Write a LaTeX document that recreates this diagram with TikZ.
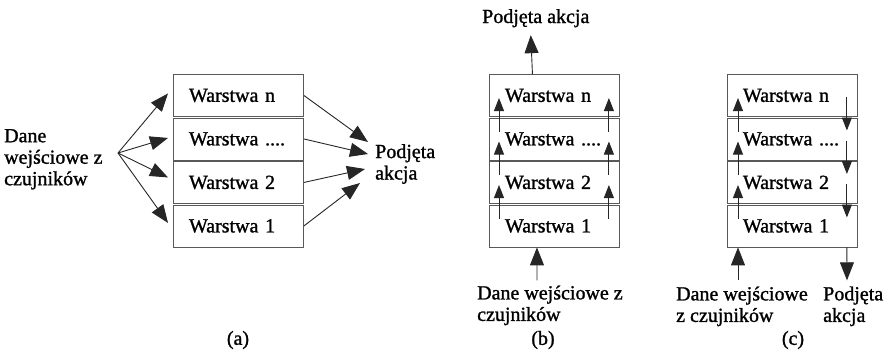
\documentclass[tikz,border=0pt]{standalone}
\usepackage{fontspec}
\setmainfont{Liberation Serif}[FakeBold=1.2]
\usetikzlibrary{arrows.meta,calc}
\begin{document}
\begin{tikzpicture}[x=1pt,y=-1pt,
  layer/.style={draw=black!65, line width=0.9pt, minimum width=130pt, minimum height=42pt,
    inner xsep=15.5pt, inner ysep=0pt, text width=99pt, align=left, anchor=north west,
    font=\fontsize{20}{24}\selectfont},
  lbl/.style={font=\fontsize{20}{21.5}\selectfont, inner sep=0pt, align=left},
  conn/.style={draw=black!85, line width=0.9pt},
  big/.style={conn, -{Triangle[length=18pt,width=14pt]}},
  small/.style={conn, -{Triangle[length=13pt,width=10pt]}}]
\useasboundingbox (0,0) rectangle (887,351);

% layer stacks
\foreach \px/\p in {173/a,489/b,727/c}{
  \node[layer] (\p1) at (\px,204.5) {Warstwa 1};
  \node[layer] (\p2) at (\px,161) {Warstwa 2};
  \node[layer] (\p3) at (\px,117.5) {Warstwa ....};
  \node[layer] (\p4) at (\px,74) {Warstwa n};
}

% ---------- (a)
\node[lbl, anchor=west] (ina) at (4,159.3) {Dane\\wejściowe z\\czujników};
\coordinate (asrc) at (118,153);
\foreach \b/\dy in {a4/-2,a3/-1,a2/-5,a1/-3}
  \draw[big] (asrc) -- ($(\b.west)+(-5,\dy)$);
\node[lbl, anchor=west] (aout) at (375,164) {Podjęta\\akcja};
\draw[big] (a4.east) -- ($(aout.west)+(-7,-22)$);
\draw[big] (a3.east) -- ($(aout.west)+(-7,-10)$);
\draw[big] (a2.east) -- ($(aout.west)+(-10,5)$);
\draw[big] (a1.east) -- ($(aout.west)+(-15,19)$);
\node[lbl] (la) at (238,340) {(a)};

% ---------- (b)
\node[lbl, anchor=base west] (bout) at (482,23) {Podjęta akcja};
\draw[big] ([xshift=-22pt]b4.north) -- ($(bout.south)+(-5,7.7)$);
\node[lbl, anchor=north west] (bin) at (477,285.3) {Dane wejściowe z\\czujników};
\draw[big] ($(bin.north west)+(60,-5)$) -- ([xshift=-17.5pt]b1.south);
\foreach \l/\u in {b1/b2,b2/b3,b3/b4}{
  \draw[small] ($(\l.north west)+(10,14)$) -- ($(\u.north west)+(10,24)$);
  \draw[small] ($(\l.north east)+(-11,14)$) -- ($(\u.north east)+(-11,24)$);
}
\node[lbl] (lb) at (543,340) {(b)};

% ---------- (c)
\foreach \l/\u in {c1/c2,c2/c3,c3/c4}{
  \draw[small] ($(\l.north west)+(11,14)$) -- ($(\u.north west)+(11,24)$);
  \draw[small] ($(\u.north east)+(-11,23)$) -- ($(\l.north east)+(-11,13)$);
}
\node[lbl, anchor=north west] (cin) at (676,286.3) {Dane wejściowe\\z czujników};
\node[lbl, anchor=north west] (cout) at (823,286.3) {Podjęta\\akcja};
\draw[big] ($(cin.north west)+(62,-6)$) -- ([xshift=11pt]c1.south west);
\draw[big] ([xshift=-11pt]c1.south east) -- ($(cout.north west)+(24,-6)$);
\node[lbl] (lc) at (793,340) {(c)};
\end{tikzpicture}
\end{document}
